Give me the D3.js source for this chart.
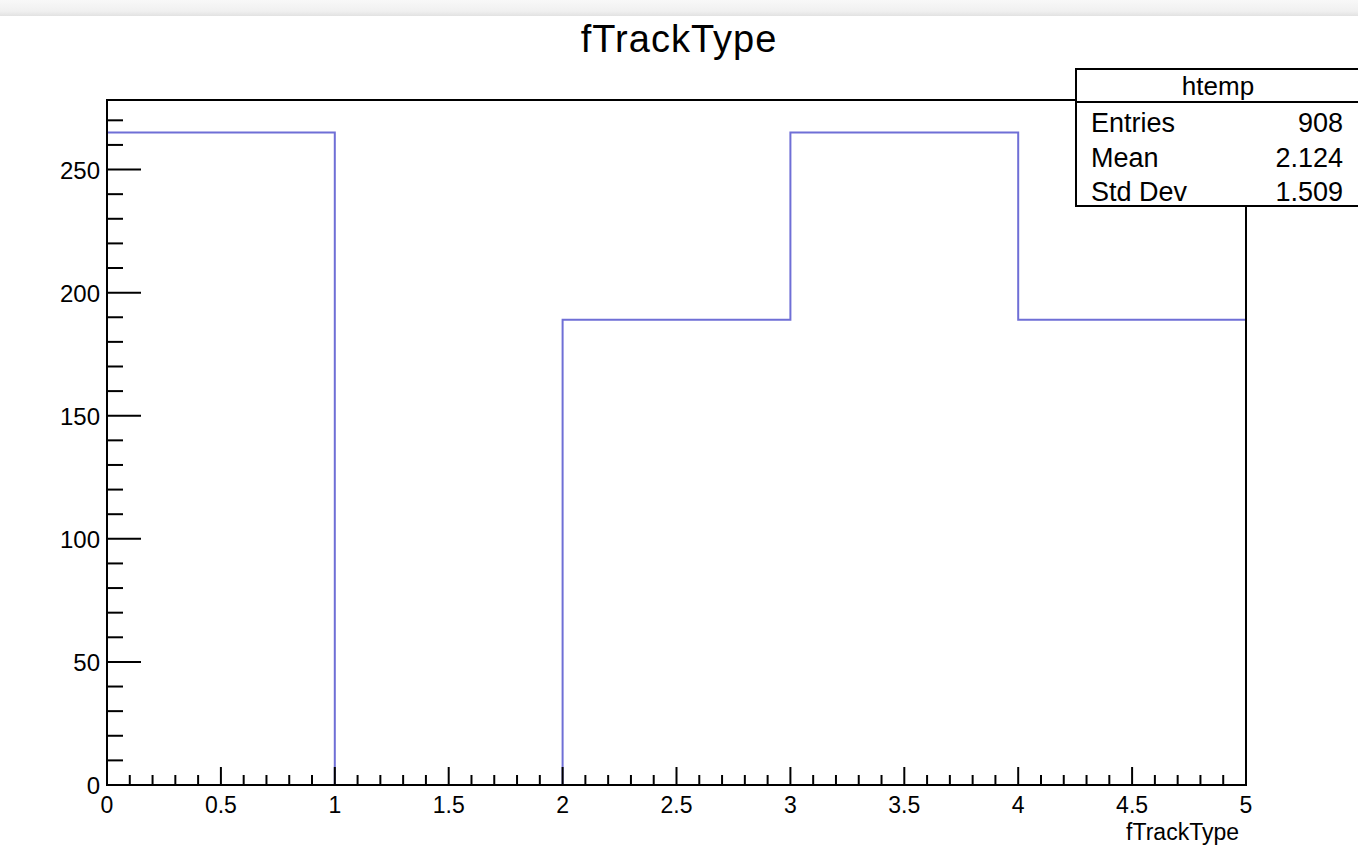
<!DOCTYPE html>
<html>
<head>
<meta charset="utf-8">
<script src="https://cdn.jsdelivr.net/npm/d3@7"></script>
<style>
  html, body { margin: 0; padding: 0; background: #fff; }
  svg { display: block; font-family: "Liberation Sans", Arial, Helvetica, sans-serif; }
</style>
</head>
<body>
<svg id="chart" width="1358" height="859"></svg>
<script>
// Histogram of fTrackType: bin edges and counts
const binEdges = [0, 1, 2, 3, 4, 5];
const binCounts = [265, 0, 189, 265, 189];
const xTickValues = [0, 0.5, 1, 1.5, 2, 2.5, 3, 3.5, 4, 4.5, 5];
const yTickValues = [0, 50, 100, 150, 200, 250];
const statsNames = ["Entries", "Mean", "Std Dev"];
const statsValues = ["908", "2.124", "1.509"];
const histName = "htemp";
const titleText = "fTrackType";

const svg = d3.select("#chart");
const W = 1358, H = 859;
const frame = { left: 107, right: 1246, top: 100, bottom: 785 };

// window bar at the top
const defs = svg.append("defs");
const grad = defs.append("linearGradient").attr("id", "topbar").attr("x1", 0).attr("y1", 0).attr("x2", 0).attr("y2", 1);
grad.append("stop").attr("offset", "0%").attr("stop-color", "#f8f8f8");
grad.append("stop").attr("offset", "70%").attr("stop-color", "#f0f0f0");
grad.append("stop").attr("offset", "100%").attr("stop-color", "#e2e2e2");
svg.append("rect").attr("x", 0).attr("y", 0).attr("width", W).attr("height", 16).attr("fill", "url(#topbar)");

const yMax = d3.max(binCounts) * 1.05;
const x = d3.scaleLinear().domain([binEdges[0], binEdges[binEdges.length - 1]]).range([frame.left, frame.right]);
const y = d3.scaleLinear().domain([0, yMax]).range([frame.bottom, frame.top]);

// histogram outline as a step path
const steps = [];
binCounts.forEach((c, i) => {
  steps.push([binEdges[i], c]);
  steps.push([binEdges[i + 1], c]);
});
const line = d3.line().x(d => x(d[0])).y(d => y(d[1]));
svg.append("path")
  .attr("d", line(steps))
  .attr("fill", "none")
  .attr("stroke", "#6f6fd6")
  .attr("stroke-width", 2);

// frame
svg.append("rect")
  .attr("x", frame.left).attr("y", frame.top)
  .attr("width", frame.right - frame.left).attr("height", frame.bottom - frame.top)
  .attr("fill", "none").attr("stroke", "#000").attr("stroke-width", 2);

// x axis: major and minor ticks pointing up
const xMinor = d3.range(0, 50.5).map(v => v / 10);
svg.append("g").selectAll("line").data(xMinor).join("line")
  .attr("x1", d => x(d)).attr("x2", d => x(d))
  .attr("y1", frame.bottom)
  .attr("y2", d => Math.abs(d * 2 - Math.round(d * 2)) < 1e-6 ? frame.bottom - 18 : frame.bottom - 10)
  .attr("stroke", "#000").attr("stroke-width", 2);

svg.append("g").selectAll("text").data(xTickValues).join("text")
  .attr("x", d => x(d)).attr("y", 813)
  .attr("text-anchor", "middle")
  .attr("font-size", 23)
  .text(d => d3.format("")(d));

// y axis: major and minor ticks pointing right
const yMinor = d3.range(0, Math.floor(yMax / 10) + 1).map(v => v * 10);
svg.append("g").selectAll("line").data(yMinor).join("line")
  .attr("x1", frame.left)
  .attr("x2", d => d % 50 === 0 ? frame.left + 34 : frame.left + 16)
  .attr("y1", d => y(d)).attr("y2", d => y(d))
  .attr("stroke", "#000").attr("stroke-width", 2);

svg.append("g").selectAll("text").data(yTickValues).join("text")
  .attr("x", 100).attr("y", d => y(d) + 9)
  .attr("text-anchor", "end")
  .attr("font-size", 24)
  .text(d => d);

// axis title
svg.append("text")
  .attr("x", 1239).attr("y", 840)
  .attr("text-anchor", "end")
  .attr("font-size", 23)
  .text(titleText);

// main title
svg.append("text")
  .attr("x", 679).attr("y", 52)
  .attr("text-anchor", "middle")
  .attr("font-size", 38)
  .attr("letter-spacing", 1)
  .text(titleText);

// statistics box
const box = { left: 1076, top: 69, right: 1360, bottom: 206, header: 102 };
svg.append("rect")
  .attr("x", box.left).attr("y", box.top)
  .attr("width", box.right - box.left).attr("height", box.bottom - box.top)
  .attr("fill", "#fff").attr("stroke", "#000").attr("stroke-width", 2);
svg.append("line")
  .attr("x1", box.left).attr("x2", box.right)
  .attr("y1", box.header).attr("y2", box.header)
  .attr("stroke", "#000").attr("stroke-width", 2);
svg.append("text")
  .attr("x", 1218).attr("y", 95)
  .attr("text-anchor", "middle")
  .attr("font-size", 26)
  .text(histName);
const rowY = [132, 167, 201];
svg.append("g").selectAll("text").data(statsNames).join("text")
  .attr("x", 1091).attr("y", (d, i) => rowY[i])
  .attr("font-size", 27)
  .text(d => d);
svg.append("g").selectAll("text").data(statsValues).join("text")
  .attr("x", 1343).attr("y", (d, i) => rowY[i])
  .attr("text-anchor", "end")
  .attr("font-size", 27)
  .text(d => d);
</script>
</body>
</html>
